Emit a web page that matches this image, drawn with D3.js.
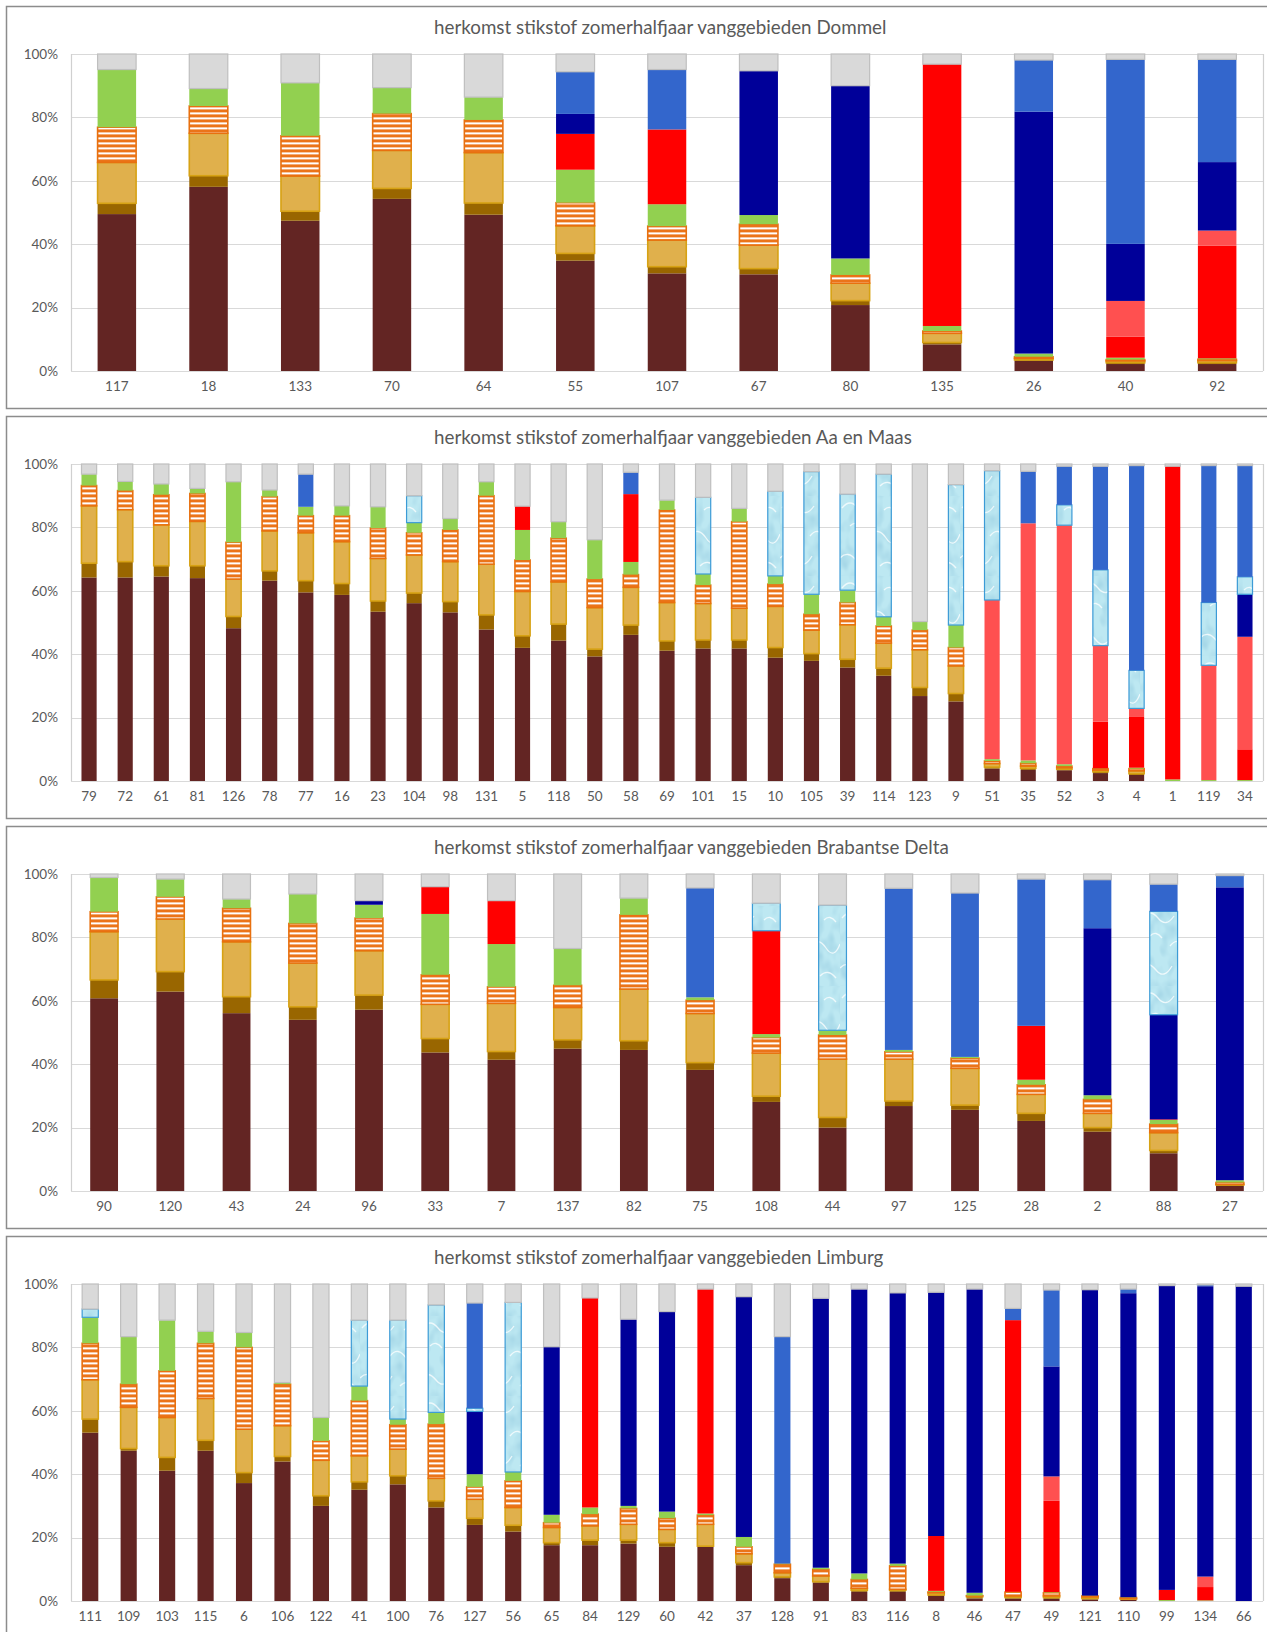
<!DOCTYPE html>
<html>
<head>
<meta charset="utf-8">
<script src="https://cdn.jsdelivr.net/npm/d3@7"></script>
<style>
  html, body { margin: 0; padding: 0; background: #fff; }
  svg { display: block; }
  text { font-family: "Lato", "Open Sans", sans-serif; fill: #595959; }
</style>
</head>
<body>
<svg id="chart" width="1267" height="1632"></svg>
<script>
// Stack order, bottom to top
const sourceKeys = ["bron1", "bron2", "bron3", "bron4", "bron5", "bron6",
                    "bron7", "bron8", "bron9", "bron10", "bron11"];

const yTicks = [0, 20, 40, 60, 80, 100];

// ---- Dommel ----
const dommelTitle = "herkomst stikstof zomerhalfjaar vanggebieden  Dommel";
const dommelAreas = ["117","18","133","70","64","55","107","67","80","135","26","40","92"];
const dommelShares = [
  [49.5,58.1,47.4,54.3,49.3,34.8,30.8,30.5,20.8,8.4,3.2,2.2,2.2],
  [3.4,3.5,3.0,3.3,3.7,2.3,2.1,1.8,1.4,0.6,0.3,0.4,0.4],
  [12.9,13.4,11.1,12.0,15.9,8.7,8.4,7.4,5.5,2.9,0.5,0.6,0.7],
  [11.1,8.6,12.7,11.6,10.3,7.3,4.4,6.6,2.6,0.7,0.5,0.4,0.4],
  [18.2,5.5,16.7,8.2,7.2,10.4,6.9,2.9,5.2,1.6,1.0,0.6,0.3],
  [0,0,0,0,0,11.3,23.6,0,0,82.6,0,6.6,35.5],
  [0,0,0,0,0,0,0,0,0,0,0,11.3,4.8],
  [0,0,0,0,0,6.3,0,45.5,54.5,0,76.3,18.0,21.6],
  [0,0,0,0,0,0,0,0,0,0,0,0,0],
  [0,0,0,0,0,13.3,18.9,0,0,0,16.3,58.2,32.4],
  [4.9,10.9,9.1,10.6,13.6,5.6,4.9,5.3,10.0,3.2,1.9,1.7,1.7]
];

// ---- Aa en Maas ----
const aaMaasTitle = "herkomst stikstof zomerhalfjaar vanggebieden  Aa en Maas";
const aaMaasAreas = ["79","72","61","81","126","78","77","16","23","104","98","131","5","118","50","58",
                     "69","101","15","10","105","39","114","123","9","51","35","52","3","4","1","119","34"];
const aaMaasShares = [
  [64.2,64.2,64.5,64.0,48.2,63.2,59.5,58.7,53.4,56.1,53.2,47.8,42.0,44.3,39.3,46.1,41.1,41.8,41.8,38.9,37.9,35.8,33.2,26.8,25.1,3.9,3.5,3.4,2.5,1.9,0,0,0],
  [4.5,5.0,3.4,3.9,3.7,3.1,3.7,3.6,3.4,3.2,3.4,4.6,3.8,5.2,2.3,3.1,3.1,2.7,2.7,3.2,2.3,2.6,2.4,2.7,2.5,0.5,0.5,0.3,0.4,0.4,0,0,0],
  [18.1,16.4,12.9,14.0,11.8,12.6,15.1,13.2,13.4,12.0,12.6,16.0,14.0,13.3,13.1,11.9,12.1,11.5,10.0,13.0,7.4,10.9,7.9,11.9,8.7,1.1,0.7,0.5,0.5,0.9,0,0,0],
  [6.4,6.0,9.5,8.8,11.6,10.8,5.4,8.2,9.6,7.0,10.0,21.6,9.9,13.8,9.0,4.0,29.2,5.8,27.3,7.0,5.0,7.0,5.4,6.2,5.8,0.8,0.9,0.5,0.5,0.7,0,0,0],
  [3.6,2.9,3.4,1.6,19.1,2.1,2.8,3.1,6.7,3.2,3.6,4.4,9.5,5.2,12.4,4.0,3.1,3.5,4.2,2.6,6.3,3.9,2.9,2.7,7.1,0.6,0.9,0.6,0.1,0.3,0.5,0.3,0.3],
  [0,0,0,0,0,0,0,0,0,0,0,0,7.5,0,0,21.4,0,0,0,0,0,0,0,0,0,0,0,0,14.7,16.0,98.8,0,9.7],
  [0,0,0,0,0,0,0,0,0,0,0,0,0,0,0,0,0,0,0,0,0,0,0,0,0,50.2,74.8,75.4,24.0,2.7,0,36.2,35.5],
  [0,0,0,0,0,0,0,0,0,0,0,0,0,0,0,0,0,0,0,0,0,0,0,0,0,0,0,0,0,0,0,0,13.4],
  [0,0,0,0,0,0,0,0,0,8.5,0,0,0,0,0,0,0,24.2,0,26.7,38.7,30.3,45.0,0,44.3,40.8,0,6.4,23.9,12.0,0,19.8,5.5],
  [0,0,0,0,0,0,10.3,0,0,0,0,0,0,0,0,6.9,0,0,0,0,0,0,0,0,0,0,16.4,12.2,32.7,64.6,0,43.2,35.1],
  [3.2,5.5,6.3,7.7,5.6,8.2,3.2,13.2,13.5,10.0,17.2,5.6,13.3,18.2,23.9,2.6,11.4,10.5,14.0,8.6,2.4,9.5,3.2,49.7,6.5,2.1,2.3,0.7,0.7,0.5,0.7,0.5,0.5]
];

// ---- Brabantse Delta ----
const deltaTitle = "herkomst stikstof zomerhalfjaar vanggebieden  Brabantse Delta";
const deltaAreas = ["90","120","43","24","96","33","7","137","82","75","108","44","97","125","28","2","88","27"];
const deltaShares = [
  [60.8,62.9,56.1,54.0,57.2,43.7,41.4,44.9,44.5,38.2,28.1,20.0,26.8,25.6,22.1,18.7,11.9,1.6],
  [5.8,6.3,5.2,4.1,4.6,4.4,2.6,2.8,2.9,2.3,1.8,3.2,1.6,1.5,2.4,1.3,0.9,0.3],
  [15.2,16.6,17.3,13.8,14.0,10.8,15.2,10.2,16.3,15.5,13.6,18.4,13.2,11.6,6.0,4.5,5.6,0.2],
  [6.3,7.0,10.6,12.5,10.3,9.3,5.2,7.0,23.4,4.2,4.9,7.6,2.3,3.2,3.0,4.4,2.7,0.6],
  [10.8,5.6,2.9,9.3,4.2,19.2,13.5,11.6,5.3,0.9,1.1,1.5,0.6,0.4,1.6,1.3,1.3,0.7],
  [0,0,0,0,0,8.6,13.7,0,0,0,32.6,0,0,0,17.0,0,0.2,0],
  [0,0,0,0,0,0,0,0,0,0,0,0,0,0,0,0,0,0],
  [0,0,0,0,1.3,0,0,0,0,0,0,0,0,0,0,52.7,33.0,92.4],
  [0,0,0,0,0,0,0,0,0,0,8.7,39.5,0,0,0,0,32.6,0],
  [0,0,0,0,0,0,0,0,0,34.5,0,0,51.0,51.7,46.3,15.3,8.6,3.7],
  [1.1,1.6,7.9,6.3,8.4,4.0,8.4,23.5,7.6,4.4,9.2,9.8,4.5,6.0,1.6,1.8,3.2,0.5]
];

// ---- Limburg ----
const limburgTitle = "herkomst stikstof zomerhalfjaar vanggebieden  Limburg";
const limburgAreas = ["111","109","103","115","6","106","122","41","100","76","127","56","65","84","129","60",
                      "42","37","128","91","83","116","8","46","47","49","121","110","99","134","66"];
const limburgShares = [
  [53.1,47.4,41.1,47.4,37.2,44.0,30.0,35.1,36.8,29.5,24.0,21.9,17.6,17.6,18.1,17.1,17.1,11.3,7.2,5.8,2.9,2.9,1.6,0.8,0.8,0.7,0.5,0.4,0,0,0],
  [4.3,0.7,4.2,3.3,3.3,1.6,3.2,2.5,2.7,2.1,2.1,2.0,0.8,1.6,1.1,1.3,0.2,0.8,0.4,0.3,0.5,0.5,0.3,0.5,0.3,0.4,0.3,0.2,0,0,0],
  [12.4,13.0,12.6,13.2,13.7,9.7,11.2,8.2,8.4,7.1,6.0,5.6,4.8,4.5,5.0,4.2,6.9,2.8,1.3,1.8,0.6,0.3,0.7,0.3,0.5,0.5,0.5,0.2,0,0,0],
  [11.5,7.3,14.7,17.4,25.8,13.1,6.1,17.4,7.7,17.1,3.9,8.4,1.5,3.7,5.0,3.5,2.9,2.2,2.7,2.1,2.8,7.4,0.3,0.1,1.2,1.0,0.3,0.3,0,0,0],
  [8.2,15.0,16.0,3.8,4.7,0.5,7.4,4.6,1.8,3.7,4.0,2.8,2.5,2.1,0.8,2.1,0.5,3.1,0.2,0.5,1.9,0.7,0.3,0.9,0.1,0.2,0.1,0.1,0.3,0.2,0],
  [0,0,0,0,0,0,0,0,0,0,0,0,0,66.1,0,0,70.8,0,0,0,0,0,17.3,0,85.7,28.8,0,0,3.2,4.2,0],
  [0,0,0,0,0,0,0,0,0,0,0,0,0,0,0,0,0,0,0,0,0,0,0,0,0,7.7,0,0,0,3.3,0],
  [0,0,0,0,0,0,0,0,0,0,19.8,0,53.0,0,58.9,63.1,0,75.8,0,85.0,89.7,85.4,76.9,95.8,0,34.7,96.5,95.9,96.0,91.6,99.3],
  [2.6,0,0,0,0,0,0,20.8,31.2,33.9,1.0,53.5,0,0,0,0,0,0,0,0,0,0,0,0,0,0,0,0,0,0,0],
  [0,0,0,0,0,0,0,0,0,0,33.2,0,0,0,0,0,0,0,71.6,0,0,0,0,0,3.7,24.1,0,1.3,0,0.4,0],
  [7.9,16.6,11.4,14.9,15.3,31.1,42.1,11.4,11.4,6.6,6.0,5.8,19.8,4.4,11.1,8.7,1.6,4.0,16.6,4.5,1.6,2.8,2.6,1.6,7.7,1.9,1.8,1.6,0.5,0.3,0.7]
];

const panels = [
  { title: dommelTitle,   areas: dommelAreas,   shares: dommelShares },
  { title: aaMaasTitle,   areas: aaMaasAreas,   shares: aaMaasShares },
  { title: deltaTitle,    areas: deltaAreas,    shares: deltaShares },
  { title: limburgTitle,  areas: limburgAreas,  shares: limburgShares }
];

// ---- layout & styling ----
const svg = d3.select("#chart");
const plotLeft = 71, plotRight = 1263;
const panelTop0 = 6, panelStep = 410, panelH = 402;
const yTopOff = 48, yBotOff = 365;

const fills = ["#632523", "#996600", "#E0B04C", "url(#hatch)", "#92D050", "#FF0000",
               "#FF5050", "#000099", "url(#water)", "#3366CC", "#D9D9D9"];
const strokes = [null, null, "#D7A214", "#E8700F", null, null,
                 null, null, "#3C9BD6", null, "#BFBFBF"];
const strokeW = [0, 0, 1.6, 1.6, 0, 0, 0, 0, 1.2, 0, 1.2];

const defs = svg.append("defs");

// orange fill with white horizontal stripes
const hatch = defs.append("pattern")
  .attr("id", "hatch").attr("patternUnits", "userSpaceOnUse")
  .attr("width", 8).attr("height", 5);
hatch.append("rect").attr("width", 8).attr("height", 5).attr("fill", "#EB7419");
hatch.append("rect").attr("y", 1.4).attr("width", 8).attr("height", 2).attr("fill", "#FFFFFF");

// pale water texture
const noise = defs.append("filter").attr("id", "waterNoise")
  .attr("x", 0).attr("y", 0).attr("width", "100%").attr("height", "100%");
noise.append("feTurbulence").attr("type", "fractalNoise")
  .attr("baseFrequency", "0.09 0.06").attr("numOctaves", 2).attr("seed", 4);
noise.append("feColorMatrix").attr("type", "matrix")
  .attr("values", "0 0 0 0 0.38  0 0 0 0 0.68  0 0 0 0 0.80  0 0 0 2.6 -1.1");
const water = defs.append("pattern")
  .attr("id", "water").attr("patternUnits", "userSpaceOnUse")
  .attr("width", 60).attr("height", 80);
water.append("rect").attr("width", 60).attr("height", 80).attr("fill", "#BDE8F2");
water.append("rect").attr("width", 60).attr("height", 80).attr("fill", "#000")
  .attr("filter", "url(#waterNoise)");
water.append("path")
  .attr("d", "M2 12 Q10 2 18 12 T34 10 M30 40 Q38 30 46 42 T60 38 M0 62 Q8 54 16 64 T32 60 M40 70 Q48 62 56 72 M10 30 Q16 24 22 32 M44 14 Q50 8 56 16")
  .attr("fill", "none").attr("stroke", "#FFFFFF").attr("stroke-opacity", 0.75).attr("stroke-width", 1.3);

svg.append("rect").attr("width", 1267).attr("height", 1632).attr("fill", "#fff");

panels.forEach((p, i) => {
  const top = panelTop0 + i * panelStep;
  const g = svg.append("g").attr("transform", `translate(0,${top})`);

  g.append("rect")
    .attr("x", 6.5).attr("y", 0.5).attr("width", 1275).attr("height", panelH)
    .attr("fill", "#fff").attr("stroke", "#8C8C8C").attr("stroke-width", 1.5);

  g.append("text")
    .attr("x", 434).attr("y", 28)
    .attr("font-size", 18.8)
    .text(p.title);

  const x = d3.scaleBand().domain(p.areas).range([plotLeft, plotRight])
    .paddingInner(0.58).paddingOuter(0.29);
  const y = d3.scaleLinear().domain([0, 100]).range([yBotOff, yTopOff]);

  // gridlines and plot-area sides
  g.append("g").selectAll("line").data(yTicks).join("line")
    .attr("x1", plotLeft).attr("x2", plotRight)
    .attr("y1", d => Math.round(y(d)) + 0.5).attr("y2", d => Math.round(y(d)) + 0.5)
    .attr("stroke", "#D9D9D9").attr("stroke-width", 1.2);
  g.append("g").selectAll("line").data([plotLeft, plotRight]).join("line")
    .attr("x1", d => d + 0.5).attr("x2", d => d + 0.5)
    .attr("y1", y(100)).attr("y2", y(0))
    .attr("stroke", "#D0D0D0").attr("stroke-width", 1.2);

  // y-axis labels
  const yAxis = d3.axisLeft(y).tickValues(yTicks).tickFormat(d => d + "%").tickSize(0).tickPadding(0);
  const ya = g.append("g").attr("transform", `translate(58,0)`).call(yAxis);
  ya.select(".domain").remove();
  ya.selectAll("text").attr("font-size", 13.5).attr("fill", "#595959")
    .style("font-family", "Lato, sans-serif");

  // x-axis labels
  const xAxis = d3.axisBottom(x).tickSize(0).tickPadding(0);
  const xa = g.append("g").attr("transform", `translate(0,${y(0) + 10})`).call(xAxis);
  xa.select(".domain").remove();
  xa.selectAll("text").attr("font-size", 13.5).attr("fill", "#595959")
    .style("font-family", "Lato, sans-serif");

  // stacked bars
  const rows = p.areas.map((a, j) => {
    const r = { area: a };
    sourceKeys.forEach((k, s) => { r[k] = p.shares[s][j]; });
    return r;
  });
  const stacked = d3.stack().keys(sourceKeys)(rows);

  stacked.forEach((layer, s) => {
    g.append("g").selectAll("rect")
      .data(layer.filter(d => d[1] - d[0] > 0))
      .join("rect")
      .attr("x", d => x(d.data.area))
      .attr("width", x.bandwidth())
      .attr("y", d => y(d[1]))
      .attr("height", d => y(d[0]) - y(d[1]))
      .attr("fill", fills[s])
      .attr("stroke", strokes[s] || "none")
      .attr("stroke-width", strokeW[s]);
  });
});
</script>
</body>
</html>
